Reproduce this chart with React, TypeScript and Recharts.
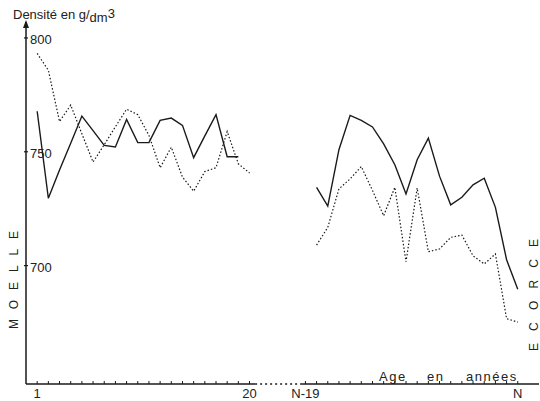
import React from 'react';
import { LineChart, Line, XAxis, YAxis, ReferenceLine } from 'recharts';

// Ages 1..20 (start of life) and N-18..N (last years), placed on one numeric axis
const agesStart = [1, 2, 3, 4, 5, 6, 7, 8, 9, 10, 11, 12, 13, 14, 15, 16, 17, 18, 19, 20];
const agesEnd = [26, 27, 28, 29, 30, 31, 32, 33, 34, 35, 36, 37, 38, 39, 40, 41, 42, 43, 44];

// Solid curve (density, g/dm3)
const solidStart = [767.8, 729.6, 742.0, 753.7, 765.7, 759.3, 752.8, 752.1, 764.2, 754.0, 754.0, 763.8, 764.8, 761.6, 747.4, 757.0, 766.3, 747.8, 747.8];
const solidEnd = [734.4, 726.1, 750.9, 766.0, 763.8, 760.9, 753.5, 744.3, 731.5, 746.5, 756.0, 739.3, 726.7, 730.0, 735.5, 738.4, 725.6, 702.6, 689.6];

// Dotted curve (density, g/dm3)
const dottedStart = [793.2, 785.8, 763.3, 770.5, 757.9, 745.5, 753.1, 761.0, 768.7, 766.3, 757.2, 743.0, 752.0, 738.9, 732.7, 741.3, 743.0, 758.9, 744.7, 740.7];
const dottedEnd = [709.0, 716.8, 733.7, 738.1, 743.5, 733.0, 721.9, 734.4, 701.7, 734.1, 706.1, 707.3, 712.4, 713.4, 704.3, 700.7, 705.1, 676.7, 675.2];

const xTicks = [1, 2, 3, 4, 5, 6, 7, 8, 9, 10, 11, 12, 13, 14, 15, 16, 17, 18, 19, 20, 25, 26, 27, 28, 29, 30, 31, 32, 33, 34, 35, 36, 37, 38, 39, 40, 41, 42, 43, 44];
const xTickLabels: Record<number, string> = { 1: '1', 20: '20', 25: 'N-19', 44: 'N' };
const yTicks = [700, 750, 800];

const startRows = agesStart.map((x, i) => ({ x, solid: solidStart[i] ?? null, dotted: dottedStart[i] }));
const endRows = agesEnd.map((x, i) => ({ x, solid: solidEnd[i], dotted: dottedEnd[i] }));

const FONT = '"Liberation Sans", Arial, sans-serif';
const INK = '#1a1a1a';
const TXT = '#222';

const XTick = (props: any) => {
  const { x, y, payload } = props;
  const label = xTickLabels[payload.value];
  return (
    <g>
      <line x1={x} y1={y} x2={x} y2={y - 3} stroke={INK} strokeWidth={1} />
      {label ? (
        <text x={x} y={y + 14} textAnchor="middle" fontFamily={FONT} fontSize={13} fill={TXT}>
          {label}
        </text>
      ) : null}
    </g>
  );
};

const YTick = (props: any) => {
  const { x, y, payload } = props;
  return (
    <g>
      <line x1={x - 2} y1={y} x2={x + 2} y2={y} stroke={INK} strokeWidth={1.2} />
      <text x={x + 4} y={y + 6} textAnchor="start" fontFamily={FONT} fontSize={13} fill={TXT}>
        {payload.value}
      </text>
    </g>
  );
};

export default function App() {
  return (
    <div style={{ position: 'absolute', left: 0, top: 0, background: '#fff' }}>
      <LineChart width={540} height={401} margin={{ top: 22, right: 1, bottom: 0, left: 0 }}>
        <XAxis
          type="number"
          dataKey="x"
          domain={[0, 45.9]}
          ticks={xTicks}
          interval={0}
          axisLine={false}
          tickLine={false}
          tickSize={0}
          tickMargin={0}
          height={17}
          tick={<XTick />}
          allowDataOverflow
        />
        <YAxis
          type="number"
          domain={[648, 807]}
          ticks={yTicks}
          width={26}
          axisLine={{ stroke: INK, strokeWidth: 1.5 }}
          tickLine={false}
          tickSize={0}
          tickMargin={0}
          tick={<YTick />}
          allowDataOverflow
        />
        <ReferenceLine segment={[{ x: 0, y: 648 }, { x: 20.5, y: 648 }]} stroke={INK} strokeWidth={1.5} ifOverflow="visible" />
        <ReferenceLine segment={[{ x: 20.5, y: 648 }, { x: 24.7, y: 648 }]} stroke={INK} strokeWidth={1.5} strokeDasharray="2 3" ifOverflow="visible" />
        <ReferenceLine segment={[{ x: 24.7, y: 648 }, { x: 45.9, y: 648 }]} stroke={INK} strokeWidth={1.5} ifOverflow="visible" />
        <Line data={startRows} dataKey="solid" type="linear" stroke={INK} strokeWidth={1.4} dot={false} isAnimationActive={false} />
        <Line data={startRows} dataKey="dotted" type="linear" stroke={INK} strokeWidth={1.2} strokeDasharray="1.5 2" dot={false} isAnimationActive={false} />
        <Line data={endRows} dataKey="solid" type="linear" stroke={INK} strokeWidth={1.4} dot={false} isAnimationActive={false} />
        <Line data={endRows} dataKey="dotted" type="linear" stroke={INK} strokeWidth={1.2} strokeDasharray="1.5 2" dot={false} isAnimationActive={false} />
        <text x={13} y={19} fontFamily={FONT} fontSize={13} fill={TXT}>
          Densité en g/<tspan dy={3}>dm</tspan><tspan dy={-4}>3</tspan>
        </text>
        <polygon points="26,20 23,28 29,28" fill={INK} />
        <text y={381} fontFamily={FONT} fontSize={13} fill={TXT} style={{ letterSpacing: '1.5px' }}>
          <tspan x={379}>Age</tspan>
          <tspan x={427}>en</tspan>
          <tspan x={466}>années</tspan>
        </text>
        <text x={18} y={280} transform="rotate(-90, 18, 280)" textAnchor="middle" fontFamily={FONT} fontSize={12} fill={TXT} textLength={98} lengthAdjust="spacing">
          MOELLE
        </text>
        <text x={538} y={295} transform="rotate(-90, 538, 295)" textAnchor="middle" fontFamily={FONT} fontSize={12} fill={TXT} textLength={112} lengthAdjust="spacing">
          ECORCE
        </text>
      </LineChart>
    </div>
  );
}
